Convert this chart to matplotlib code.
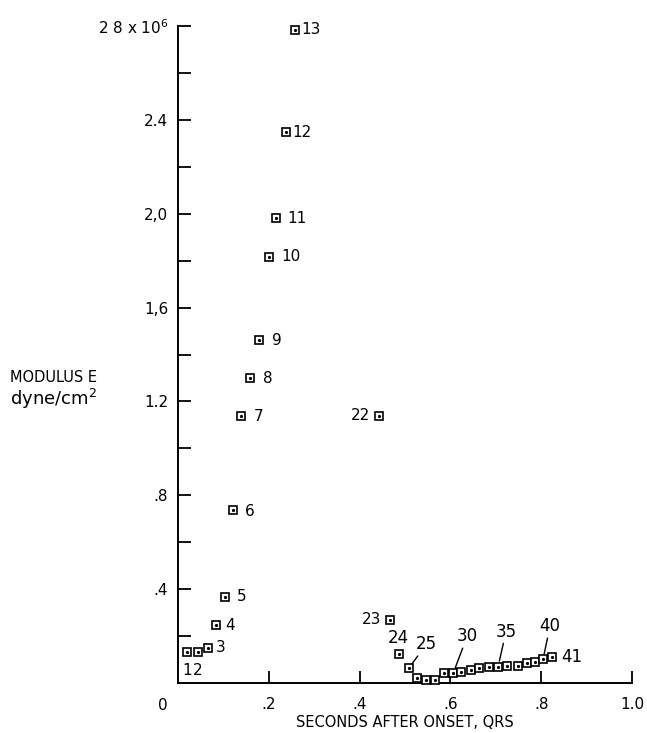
import matplotlib.pyplot as plt

# sample number, time after QRS onset (s) and modulus E (x10^6 dyne/cm^2)
sample_no = [1, 2, 3, 4, 5, 6, 7, 8, 9, 10, 11, 12, 13, 22, 23, 24, 25, 26, 27, 28,
             29, 30, 31, 32, 33, 34, 35, 36, 37, 38, 39, 40, 41]
seconds = [0.020, 0.043, 0.065, 0.083, 0.103, 0.122, 0.139, 0.158, 0.179, 0.201,
           0.216, 0.238, 0.258, 0.442, 0.466, 0.486, 0.508, 0.527, 0.547, 0.567,
           0.587, 0.606, 0.624, 0.646, 0.664, 0.684, 0.705, 0.725, 0.749, 0.768,
           0.786, 0.804, 0.824]
modulus = [0.132, 0.132, 0.148, 0.247, 0.368, 0.737, 1.137, 1.298, 1.461, 1.816,
           1.981, 2.348, 2.785, 1.140, 0.268, 0.124, 0.063, 0.020, 0.013, 0.013,
           0.041, 0.041, 0.048, 0.055, 0.063, 0.067, 0.070, 0.072, 0.072, 0.084,
           0.091, 0.101, 0.109]

x_ticks = [0.2, 0.4, 0.6, 0.8, 1.0]
x_tick_labels = ['.2', '.4', '.6', '.8', '1.0']
y_ticks = [0.2, 0.4, 0.6, 0.8, 1.0, 1.2, 1.4, 1.6, 1.8, 2.0, 2.2, 2.4, 2.6, 2.8]
y_tick_labels = ['', '.4', '', '.8', '', '1.2', '', '1,6', '', '2,0', '', '2.4', '',
                 r'2 8 x 10$^{6}$']

# which samples get a number, and where it sits (pixel offsets, alignment, leader line)
label_pos = {
    1: (0, -18, 'center', False),
    2: (0, -18, 'center', False),
    3: (8, 1, 'left', False),
    4: (10, 0, 'left', False),
    5: (12, 0, 'left', False),
    6: (11, -1, 'left', False),
    7: (13, 0, 'left', False),
    8: (13, 0, 'left', False),
    9: (13, 0, 'left', False),
    10: (12, 0, 'left', False),
    11: (11, 0, 'left', False),
    12: (6, 0, 'left', False),
    13: (6, 0, 'left', False),
    22: (-9, 0, 'right', False),
    23: (-8, 1, 'right', False),
    24: (0, 16, 'center', False),
    25: (18, 24, 'center', True),
    30: (14, 37, 'center', True),
    35: (8, 35, 'center', True),
    40: (7, 33, 'center', True),
    41: (9, 0, 'left', False),
}

plt.rcParams['font.family'] = ['DejaVu Sans']

fig = plt.figure(figsize=(6.47, 7.33), dpi=100)
ax = fig.add_axes([178 / 647, 1 - 683 / 733, 454 / 647, 657 / 733])

ax.set_xlim(0, 1.0)
ax.set_ylim(0, 2.8)

ax.plot(seconds, modulus, linestyle='none', marker='s', ms=5.6, mfc='white',
        mec='black', mew=1.2, clip_on=False, zorder=3)
ax.plot(seconds, modulus, linestyle='none', marker='o', ms=1.3, color='black',
        clip_on=False, zorder=4)

for n, x, y in zip(sample_no, seconds, modulus):
    if n not in label_pos:
        continue
    dx, dy, ha, leader = label_pos[n]
    fs = 12 if n >= 24 else 11
    arrow = None
    if leader:
        arrow = dict(arrowstyle='-', color='black', lw=1.0, shrinkA=0, shrinkB=4)
    ax.annotate(str(n), xy=(x, y), xytext=(dx, dy), textcoords='offset pixels',
                ha=ha, va='center', fontsize=fs, arrowprops=arrow)

for s in ['top', 'right']:
    ax.spines[s].set_visible(False)
for s in ['left', 'bottom']:
    ax.spines[s].set_linewidth(1.4)

ax.set_xticks(x_ticks)
ax.set_xticklabels(x_tick_labels, fontsize=11)
ax.set_yticks(y_ticks)
ax.set_yticklabels(y_tick_labels, fontsize=11)
ax.tick_params(axis='both', direction='in', length=9, width=1.3)
ax.tick_params(axis='x', pad=10)
ax.tick_params(axis='y', pad=7)

# origin label sits below and left of the corner
ax.annotate('0', xy=(0, 0), xytext=(-15, -22), textcoords='offset pixels',
            ha='center', va='center', fontsize=11)

ax.set_xlabel('SECONDS AFTER ONSET, QRS', fontsize=10.5, labelpad=2)
fig.text(10 / 647, 1 - 377 / 733, 'MODULUS E', fontsize=10.5, ha='left', va='center')
fig.text(10 / 647, 1 - 399 / 733, 'dyne/cm$^2$', fontsize=13, ha='left', va='center')

fig.savefig('out.png', dpi=100)
